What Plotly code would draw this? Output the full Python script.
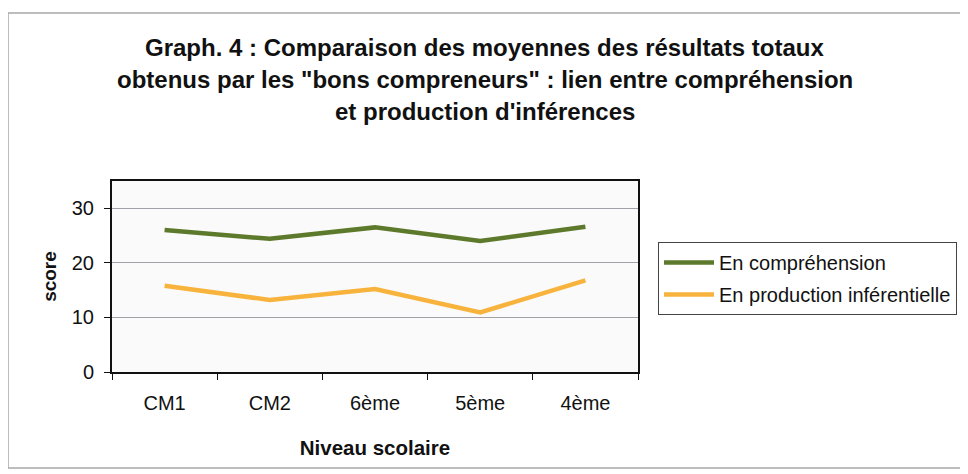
import plotly.graph_objects as go

categories = ["CM1", "CM2", "6ème", "5ème", "4ème"]
comprehension = [26.0, 24.4, 26.5, 24.0, 26.6]
production = [15.8, 13.2, 15.2, 10.9, 16.8]
series_names = ["En compréhension", "En production inférentielle"]
y_ticks = [0, 10, 20, 30]
title_lines = [
    "Graph. 4 : Comparaison des moyennes des résultats totaux",
    "obtenus par les \"bons compreneurs\" : lien entre compréhension",
    "et production d'inférences",
]

OFF = 8  # default page body margin
W, H = 968 - OFF, 474 - OFF
L, R, T, B = 112 - OFF, 638 - OFF, 181 - OFF, 372 - OFF  # plot area in figure pixels


def px(x):
    return (x - OFF - L) / (R - L)


def py(y):
    return (B - (y - OFF)) / (B - T)


FONT = "Liberation Sans, Arial, sans-serif"

fig = go.Figure()
fig.add_trace(go.Scatter(x=categories, y=comprehension, mode="lines", name=series_names[0],
                         legendgroup="a", line=dict(color="#5d7a2c", width=4.5)))
fig.add_trace(go.Scatter(x=categories, y=production, mode="lines", name=series_names[1],
                         legendgroup="b", line=dict(color="#f8b33d", width=4.5)))

annotations = []
for text, yy in zip(title_lines, [47, 80, 112]):
    annotations.append(dict(text="<b>%s</b>" % text, x=px(485), y=py(yy), xref="paper", yref="paper",
                            xanchor="center", yanchor="middle", showarrow=False,
                            font=dict(family=FONT, size=24, color="#111")))

fig.update_layout(
    width=W, height=H,
    margin=dict(l=L, r=W - R, t=T, b=H - B, pad=0, autoexpand=False),
    paper_bgcolor="white",
    plot_bgcolor="#fafafa",
    font=dict(family=FONT, size=20, color="#111"),
    showlegend=True,
    legend=dict(x=px(658), y=py(242), xanchor="left", yanchor="top",
                bordercolor="#444", borderwidth=1, bgcolor="white",
                font=dict(size=20, family=FONT, color="#111"), tracegroupgap=3,
                itemwidth=50),
    annotations=annotations,
    shapes=[dict(type="rect", xref="paper", yref="paper", x0=px(8), x1=px(1000), y0=py(468), y1=py(13),
                 line=dict(color="#a8a8a8", width=1.5), layer="below")],
    xaxis=dict(
        type="category", range=[-0.5, 4.5], showline=True, linecolor="#111", linewidth=2, mirror=True,
        ticks="outside", ticklen=6, tickcolor="#111", tickson="boundaries", showgrid=False,
        tickfont=dict(size=20, family=FONT), ticklabelstandoff=12, automargin=False,
        title=dict(text="<b>Niveau scolaire</b>", font=dict(size=20.5, family=FONT), standoff=28),
    ),
    yaxis=dict(
        range=[0, 35], tickvals=y_ticks, showline=True, linecolor="#111", linewidth=2, mirror=True,
        ticks="outside", ticklen=6, tickcolor="#111", showgrid=True, gridcolor="#a3a0a8", gridwidth=1,
        zeroline=False, tickfont=dict(size=20, family=FONT), ticklabelstandoff=6, automargin=False,
        title=dict(text="<b>score</b>", font=dict(size=19, family=FONT), standoff=10),
    ),
)

fig.write_html("out.html")
